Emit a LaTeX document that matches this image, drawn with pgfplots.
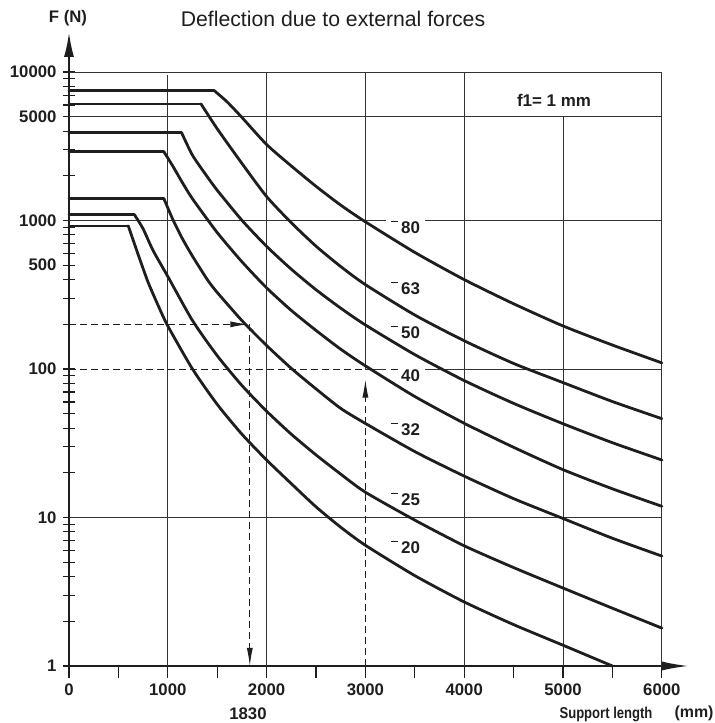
\documentclass[border=0pt]{standalone}
\usepackage{fontspec}
\setmainfont{Liberation Sans}
\usepackage{graphicx}
\usepackage{pgfplots}
\pgfplotsset{compat=1.18}
\usetikzlibrary{arrows.meta}
\definecolor{ink}{HTML}{1E1E1E}

\tikzset{
  curve/.style={line width=2.8bp, ink, line join=round, line cap=round},
  gridln/.style={line width=0.9bp, black!80},
  guide/.style={line width=1bp, ink, dash pattern=on 7bp off 4bp},
  sizelbl/.style={anchor=base west, fill=white, inner xsep=5bp, inner ysep=1.5bp,
    font=\bfseries\fontsize{17}{18}\selectfont, text=ink},
}
% small bar in front of the size numbers
\newcommand{\dia}{\rule[11.5bp]{6.5bp}{1.1bp}\hspace{3.5bp}}

\begin{document}
\begin{tikzpicture}[x=1bp,y=1bp]
\useasboundingbox (0,0) rectangle (715,723);
\begin{axis}[
  at={(69bp,57bp)}, anchor=south west,
  scale only axis, width=619bp, height=633bp,
  xmin=0, xmax=6265, ymin=1, ymax=18330,
  ymode=log,
  axis lines=left,
  axis line style={line width=1.3bp, ink},
  x axis line style={-{Latex[length=26bp,width=9bp]}},
  y axis line style={-{Latex[length=24bp,width=10bp]}},
  xtick={0,1000,2000,3000,4000,5000,6000},
  xticklabels={0,1000,2000,3000,4000,5000,6000},
  minor xtick={500,1500,2500,3500,4500,5500},
  ytick={1,10,100,500,1000,5000,10000},
  yticklabels={1,10,100,500,1000,5000,10000},
  minor ytick={2,3,4,5,6,7,8,9,20,30,40,50,60,70,80,90,200,300,400,600,700,800,900,2000,3000,4000,6000,7000,8000,9000},
  xtick align=outside, ytick align=center,
  major tick length=12bp, minor tick length=12bp,
  tick style={line width=1.1bp, ink},
  tick label style={font=\bfseries\fontsize{16.8}{18}\selectfont, text=ink},
  yticklabel style={xshift=-3bp},
  xticklabel style={yshift=-2bp},
  clip=false,
]
% grid / frame
\draw[gridln] (axis cs:0,10000) -- (axis cs:6000,10000) -- (axis cs:6000,1);
\draw[gridln] (axis cs:0,5000) -- (axis cs:6000,5000);
\draw[gridln] (axis cs:0,1000) -- (axis cs:6000,1000);
\draw[gridln] (axis cs:3000,100) -- (axis cs:6000,100);
\draw[gridln] (axis cs:0,10) -- (axis cs:6000,10);
\draw[gridln] (axis cs:1000,1) -- (axis cs:1000,9550);
\draw[gridln] (axis cs:2000,1) -- (axis cs:2000,10000);
\draw[gridln] (axis cs:3000,100) -- (axis cs:3000,10000);
\draw[gridln] (axis cs:4000,1) -- (axis cs:4000,10000);
\draw[gridln] (axis cs:5000,1) -- (axis cs:5000,5000);

% size labels
\node[sizelbl] at (axis cs:3208,820) {\dia 80};
\node[sizelbl] at (axis cs:3208,318) {\dia 63};
\node[sizelbl] at (axis cs:3208,161) {\dia 50};
\node[sizelbl] at (axis cs:3208,82.1) {\dia 40};
\node[sizelbl] at (axis cs:3208,35.6) {\dia 32};
\node[sizelbl] at (axis cs:3208,12.0) {\dia 25};
\node[sizelbl] at (axis cs:3208,5.74) {\dia 20};

% reading examples
\addplot[guide, -{Latex[length=18bp,width=6bp]}] coordinates {(0,200) (1815,200)};
\addplot[guide, -{Latex[length=18bp,width=6bp]}] coordinates {(1830,200) (1830,1)};
\addplot[guide] coordinates {(0,100) (3000,100)};
\addplot[guide, -{Latex[length=18bp,width=6bp]}] coordinates {(3000,1) (3000,85)};

% F over support length, f1 = 1 mm: flat part, then smooth fall-off
% 80
\addplot[curve] coordinates {(0,7500) (1470,7500)};
\addplot[curve, smooth, tension=0.4] coordinates {(1470,7500) (1600,6300) (1750,4950) (2000,3250) (2250,2330) (2500,1700) (2750,1270) (3000,980) (3500,610) (4000,400) (4500,275) (5000,195) (5500,145) (6000,110)};
% 63
\addplot[curve] coordinates {(0,6100) (1336,6100)};
\addplot[curve, smooth, tension=0.4] coordinates {(1336,6100) (1500,4150) (1750,2425) (2000,1450) (2250,966) (2500,672) (2750,490) (3000,370) (3500,231) (4000,155) (4500,109) (5000,81) (5500,60.4) (6000,46.3)};
% 50
\addplot[curve] coordinates {(0,3900) (1140,3900)};
\addplot[curve, smooth, tension=0.4] coordinates {(1140,3900) (1250,2750) (1400,1970) (1500,1600) (1750,1004) (2000,670) (2250,470) (2500,342) (2750,257) (3000,198) (3500,125) (4000,83.6) (4500,58.7) (5000,42.8) (5500,31.9) (6000,24.4)};
% 40
\addplot[curve] coordinates {(0,2900) (961,2900)};
\addplot[curve, smooth, tension=0.4] coordinates {(961,2900) (1050,2330) (1150,1790) (1250,1400) (1500,830) (1750,528) (2000,352) (2250,248) (2500,182) (2750,136) (3000,105) (3500,65.3) (4000,43.1) (4500,29.7) (5000,21.0) (5500,15.6) (6000,11.9)};
% 32
\addplot[curve] coordinates {(0,1400) (961,1400)};
\addplot[curve, smooth, tension=0.4] coordinates {(961,1400) (1050,1020) (1150,750) (1250,575) (1400,400) (1500,328) (1750,212) (2000,144) (2250,101) (2500,73.5) (2750,54.3) (3000,43) (3500,27.8) (4000,19.0) (4500,13.4) (5000,9.85) (5500,7.25) (6000,5.5)};
% 25
\addplot[curve] coordinates {(0,1100) (660,1100)};
\addplot[curve, smooth, tension=0.4] coordinates {(660,1100) (750,880) (850,630) (1000,420) (1250,212) (1500,123) (1750,77.5) (2000,52) (2250,36.4) (2500,26.4) (2750,19.6) (3000,14.8) (3500,9.6) (4000,6.45) (4500,4.6) (5000,3.35) (5500,2.45) (6000,1.8)};
% 20
\addplot[curve] coordinates {(0,920) (600,920)};
\addplot[curve, smooth, tension=0.4] coordinates {(600,920) (700,590) (800,385) (900,270) (1000,195) (1250,100) (1500,57.8) (1750,36.4) (2000,24.4) (2250,16.9) (2500,11.8) (2750,8.6) (3000,6.5) (3500,4.06) (4000,2.7) (4500,1.9) (5000,1.38) (5500,1.0)};
\end{axis}

\node[anchor=base, font=\fontsize{21.3}{24}\selectfont, text=ink] at (333,696.3) {Deflection due to external forces};
\node[anchor=base, font=\bfseries\fontsize{16.8}{18}\selectfont, text=ink] at (68,700) {F (N)};
\node[anchor=base, font=\bfseries\fontsize{17}{18}\selectfont, text=ink] at (554,616) {f1= 1 mm};
\node[anchor=base, font=\bfseries\fontsize{16.8}{18}\selectfont, text=ink] at (248,3) {1830};
\node[anchor=base, font=\bfseries\fontsize{15.8}{18}\selectfont, text=ink] at (606,4) {\scalebox{0.83}[1]{Support length}};
\node[anchor=base, font=\bfseries\fontsize{16}{18}\selectfont, text=ink] at (694,5) {(mm)};
\end{tikzpicture}
\end{document}
